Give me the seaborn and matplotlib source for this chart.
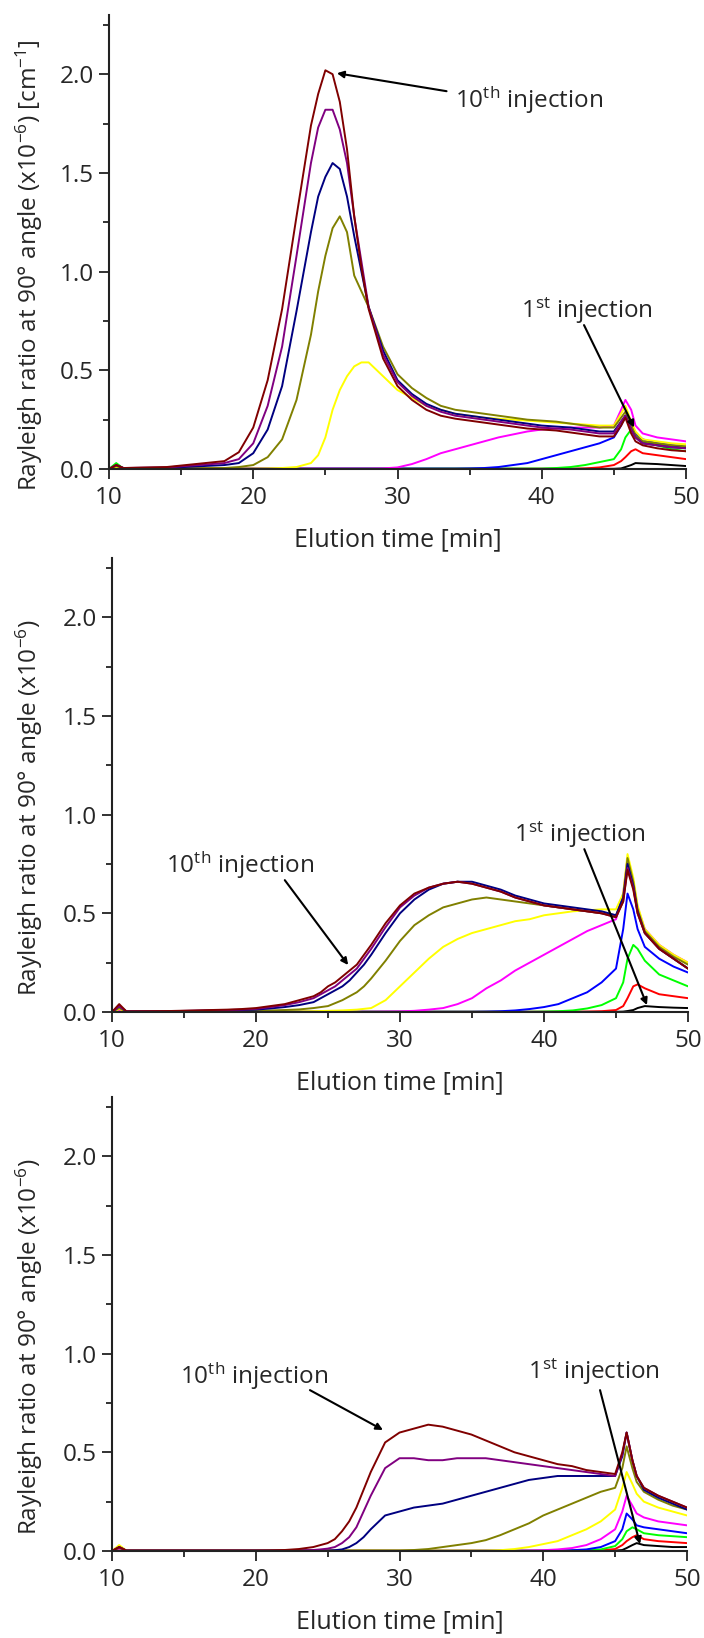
import numpy as np
import pandas as pd
import matplotlib
matplotlib.use("Agg")
import matplotlib.pyplot as plt
from matplotlib.ticker import MultipleLocator, FormatStrFormatter
import seaborn as sns

# ---------------- data ----------------
TIME = [10, 10.5, 11, 14, 18, 19, 20, 21, 22, 23,
        24, 24.5, 25, 25.5, 26, 26.5, 27, 27.5, 28, 29,
        30, 31, 32, 33, 34, 35, 36, 37, 38, 39, 40, 41, 42, 43, 44,
        45, 45.5, 45.8, 46.2, 46.5, 47, 48, 49, 50]

INJECTIONS = ["1st", "2nd", "3rd", "4th", "5th", "6th", "7th", "8th", "9th", "10th"]
COLORS = ["#000000", "#FF0000", "#00FF00", "#0000FF", "#FF00FF",
          "#FFFF00", "#808000", "#000080", "#800080", "#800000"]

# Panel 1 (values x1e-6 cm^-1)
P1_INJ1 = ([0.0, 0.01] + [0.001] * 8 + [0.001] * 10 + [0.001] * 15 +
           [0.001, 0.003, 0.01, 0.02, 0.03, 0.028, 0.025, 0.02, 0.015])
P1_INJ2 = ([0.0, 0.01] + [0.001] * 8 + [0.001] * 10 + [0.001] * 13 + [0.003, 0.008] +
           [0.02, 0.04, 0.06, 0.09, 0.10, 0.08, 0.07, 0.06, 0.05])
P1_INJ3 = ([0.0, 0.03] + [0.002] * 8 + [0.002] * 10 + [0.002] * 11 + [0.005, 0.01, 0.02, 0.035] +
           [0.05, 0.10, 0.16, 0.20, 0.17, 0.14, 0.12, 0.10, 0.09])
P1_INJ4 = ([0.0, 0.01] + [0.002] * 8 + [0.002] * 10 +
           [0.002, 0.002, 0.002, 0.002, 0.002, 0.003, 0.005, 0.01, 0.02, 0.03, 0.05, 0.07, 0.09, 0.11, 0.13] +
           [0.16, 0.22, 0.27, 0.22, 0.18, 0.15, 0.13, 0.12, 0.11])
P1_INJ5 = ([0.0, 0.01] + [0.002] * 8 + [0.002] * 9 + [0.003] +
           [0.008, 0.025, 0.05, 0.08, 0.10, 0.12, 0.14, 0.16, 0.175, 0.19, 0.20, 0.205, 0.21, 0.21, 0.21] +
           [0.22, 0.30, 0.35, 0.30, 0.22, 0.18, 0.16, 0.15, 0.14])
P1_INJ6 = ([0.0, 0.01, 0.002, 0.002, 0.002, 0.002, 0.002, 0.003, 0.005, 0.01] +
           [0.03, 0.07, 0.16, 0.30, 0.40, 0.47, 0.52, 0.54, 0.54, 0.47] +
           [0.40, 0.36, 0.32, 0.30, 0.28, 0.27, 0.26, 0.255, 0.25, 0.245, 0.24, 0.235, 0.23, 0.225, 0.22] +
           [0.22, 0.28, 0.32, 0.24, 0.19, 0.15, 0.14, 0.13, 0.125])
P1_INJ7 = ([0.0, 0.015, 0.003, 0.003, 0.005, 0.01, 0.02, 0.06, 0.15, 0.35] +
           [0.68, 0.90, 1.08, 1.22, 1.28, 1.20, 0.98, 0.90, 0.82, 0.62] +
           [0.48, 0.41, 0.36, 0.32, 0.30, 0.29, 0.28, 0.27, 0.26, 0.25, 0.245, 0.24, 0.23, 0.22, 0.21] +
           [0.21, 0.26, 0.29, 0.22, 0.17, 0.14, 0.13, 0.12, 0.115])
P1_INJ8 = ([0.0, 0.02, 0.005, 0.006, 0.02, 0.03, 0.08, 0.20, 0.42, 0.80] +
           [1.20, 1.38, 1.48, 1.55, 1.52, 1.38, 1.18, 1.00, 0.82, 0.60] +
           [0.45, 0.38, 0.33, 0.30, 0.28, 0.27, 0.26, 0.25, 0.24, 0.23, 0.22, 0.215, 0.21, 0.20, 0.19] +
           [0.19, 0.24, 0.27, 0.20, 0.16, 0.13, 0.12, 0.11, 0.105])
P1_INJ9 = ([0.0, 0.02, 0.005, 0.008, 0.03, 0.05, 0.13, 0.32, 0.62, 1.08] +
           [1.55, 1.73, 1.82, 1.82, 1.72, 1.55, 1.28, 1.05, 0.82, 0.58] +
           [0.44, 0.37, 0.32, 0.29, 0.27, 0.26, 0.25, 0.24, 0.23, 0.22, 0.21, 0.205, 0.20, 0.19, 0.18] +
           [0.18, 0.24, 0.27, 0.20, 0.16, 0.13, 0.12, 0.11, 0.105])
P1_INJ10 = ([0.0, 0.02, 0.005, 0.01, 0.04, 0.085, 0.21, 0.45, 0.81, 1.28] +
            [1.74, 1.90, 2.02, 2.00, 1.86, 1.62, 1.28, 1.02, 0.81, 0.56] +
            [0.42, 0.35, 0.30, 0.27, 0.255, 0.245, 0.235, 0.225, 0.215, 0.205, 0.20, 0.195, 0.185, 0.175, 0.165] +
            [0.165, 0.22, 0.26, 0.18, 0.14, 0.12, 0.105, 0.095, 0.09])

# Panel 2
P2_INJ1 = ([0.0, 0.01] + [0.001] * 8 + [0.001] * 10 + [0.001] * 15 +
           [0.001, 0.002, 0.005, 0.01, 0.02, 0.03, 0.025, 0.022, 0.02])
P2_INJ2 = ([0.0, 0.01] + [0.001] * 8 + [0.001] * 10 + [0.001] * 13 + [0.002, 0.004] +
           [0.01, 0.03, 0.07, 0.13, 0.14, 0.12, 0.09, 0.08, 0.07])
P2_INJ3 = ([0.0, 0.01] + [0.001] * 8 + [0.001] * 10 + [0.001] * 10 + [0.002, 0.004, 0.008, 0.018, 0.035] +
           [0.07, 0.15, 0.27, 0.34, 0.32, 0.26, 0.19, 0.16, 0.13])
P2_INJ4 = ([0.0, 0.01] + [0.001] * 8 + [0.001] * 10 + [0.001] * 6 +
           [0.002, 0.004, 0.008, 0.015, 0.025, 0.04, 0.07, 0.10, 0.15] +
           [0.22, 0.42, 0.60, 0.52, 0.42, 0.33, 0.27, 0.23, 0.20])
P2_INJ5 = ([0.0, 0.01] + [0.001] * 8 + [0.001] * 9 + [0.002] +
           [0.003, 0.006, 0.012, 0.02, 0.04, 0.07, 0.12, 0.16, 0.21, 0.25, 0.29, 0.33, 0.37, 0.41, 0.44] +
           [0.47, 0.60, 0.78, 0.66, 0.53, 0.42, 0.34, 0.29, 0.25])
P2_INJ6 = ([0.0, 0.015, 0.002, 0.002, 0.002, 0.002, 0.002, 0.002, 0.003, 0.003] +
           [0.004, 0.005, 0.006, 0.007, 0.008, 0.01, 0.012, 0.016, 0.02, 0.06] +
           [0.13, 0.20, 0.27, 0.33, 0.37, 0.40, 0.42, 0.44, 0.46, 0.47, 0.49, 0.50, 0.51, 0.515, 0.52] +
           [0.52, 0.60, 0.80, 0.68, 0.54, 0.42, 0.34, 0.29, 0.25])
P2_INJ7 = ([0.0, 0.02, 0.002, 0.002, 0.004, 0.005, 0.006, 0.008, 0.01, 0.013] +
           [0.02, 0.025, 0.03, 0.045, 0.06, 0.08, 0.10, 0.13, 0.17, 0.26] +
           [0.36, 0.44, 0.49, 0.53, 0.55, 0.57, 0.58, 0.57, 0.56, 0.55, 0.54, 0.53, 0.52, 0.51, 0.50] +
           [0.49, 0.58, 0.78, 0.66, 0.52, 0.41, 0.33, 0.28, 0.24])
P2_INJ8 = ([0.0, 0.03, 0.003, 0.003, 0.008, 0.01, 0.012, 0.018, 0.025, 0.035] +
           [0.05, 0.07, 0.09, 0.11, 0.13, 0.16, 0.20, 0.24, 0.29, 0.40] +
           [0.50, 0.57, 0.62, 0.65, 0.66, 0.66, 0.64, 0.62, 0.59, 0.57, 0.55, 0.54, 0.53, 0.52, 0.51] +
           [0.49, 0.58, 0.75, 0.64, 0.51, 0.40, 0.32, 0.27, 0.22])
P2_INJ9 = ([0.0, 0.03, 0.003, 0.004, 0.01, 0.012, 0.016, 0.025, 0.035, 0.05] +
           [0.07, 0.09, 0.11, 0.13, 0.16, 0.19, 0.22, 0.27, 0.32, 0.43] +
           [0.53, 0.59, 0.63, 0.65, 0.66, 0.65, 0.63, 0.61, 0.58, 0.56, 0.54, 0.53, 0.52, 0.51, 0.50] +
           [0.48, 0.56, 0.73, 0.63, 0.50, 0.40, 0.32, 0.27, 0.22])
P2_INJ10 = ([0.0, 0.04, 0.003, 0.005, 0.012, 0.015, 0.02, 0.03, 0.04, 0.06] +
            [0.08, 0.10, 0.13, 0.15, 0.18, 0.21, 0.24, 0.29, 0.34, 0.45] +
            [0.54, 0.60, 0.63, 0.65, 0.66, 0.65, 0.63, 0.61, 0.58, 0.56, 0.54, 0.53, 0.52, 0.51, 0.50] +
            [0.48, 0.56, 0.72, 0.62, 0.50, 0.40, 0.32, 0.27, 0.22])

# Panel 3
P3_INJ1 = ([0.0, 0.01] + [0.001] * 8 + [0.001] * 10 + [0.001] * 15 +
           [0.002, 0.005, 0.015, 0.03, 0.04, 0.03, 0.025, 0.02, 0.02])
P3_INJ2 = ([0.0, 0.01] + [0.001] * 8 + [0.001] * 10 + [0.001] * 13 + [0.002, 0.003] +
           [0.01, 0.03, 0.05, 0.07, 0.08, 0.06, 0.05, 0.045, 0.04])
P3_INJ3 = ([0.0, 0.01] + [0.001] * 8 + [0.001] * 10 + [0.001] * 12 + [0.002, 0.004, 0.008] +
           [0.025, 0.06, 0.10, 0.12, 0.11, 0.09, 0.08, 0.075, 0.07])
P3_INJ4 = ([0.0, 0.01] + [0.001] * 8 + [0.001] * 10 + [0.001] * 11 + [0.002, 0.004, 0.008, 0.02] +
           [0.05, 0.11, 0.19, 0.16, 0.13, 0.12, 0.11, 0.10, 0.09])
P3_INJ5 = ([0.0, 0.01] + [0.001] * 8 + [0.001] * 10 + [0.001] * 9 +
           [0.002, 0.004, 0.008, 0.015, 0.03, 0.06] +
           [0.11, 0.20, 0.28, 0.23, 0.19, 0.17, 0.15, 0.14, 0.13])
P3_INJ6 = ([0.0, 0.03] + [0.002] * 8 + [0.002] * 10 + [0.002] * 6 +
           [0.002, 0.004, 0.01, 0.02, 0.035, 0.05, 0.08, 0.11, 0.15] +
           [0.21, 0.32, 0.40, 0.34, 0.29, 0.25, 0.22, 0.20, 0.18])
P3_INJ7 = ([0.0, 0.015] + [0.002] * 8 + [0.002] * 10 +
           [0.002, 0.005, 0.01, 0.02, 0.03, 0.04, 0.055, 0.08, 0.11, 0.14, 0.18, 0.21, 0.24, 0.27, 0.30] +
           [0.32, 0.42, 0.53, 0.42, 0.35, 0.30, 0.26, 0.23, 0.21])
P3_INJ8 = ([0.0, 0.02] + [0.002] * 8 +
           [0.002, 0.002, 0.002, 0.004, 0.008, 0.02, 0.04, 0.07, 0.11, 0.18] +
           [0.20, 0.22, 0.23, 0.24, 0.26, 0.28, 0.30, 0.32, 0.34, 0.36, 0.37, 0.38, 0.38, 0.38, 0.38] +
           [0.38, 0.48, 0.60, 0.46, 0.38, 0.31, 0.27, 0.24, 0.21])
P3_INJ9 = ([0.0, 0.02, 0.002, 0.002, 0.002, 0.002, 0.002, 0.002, 0.002, 0.003] +
           [0.005, 0.008, 0.012, 0.02, 0.04, 0.07, 0.12, 0.20, 0.28, 0.42] +
           [0.47, 0.47, 0.46, 0.46, 0.47, 0.47, 0.47, 0.46, 0.45, 0.44, 0.43, 0.42, 0.41, 0.40, 0.39] +
           [0.38, 0.49, 0.60, 0.46, 0.38, 0.32, 0.28, 0.25, 0.22])
P3_INJ10 = ([0.0, 0.02, 0.002, 0.002, 0.002, 0.002, 0.002, 0.003, 0.005, 0.01] +
            [0.02, 0.03, 0.04, 0.06, 0.10, 0.15, 0.22, 0.31, 0.40, 0.55] +
            [0.60, 0.62, 0.64, 0.63, 0.61, 0.59, 0.56, 0.53, 0.50, 0.48, 0.46, 0.44, 0.43, 0.41, 0.40] +
            [0.39, 0.50, 0.60, 0.46, 0.38, 0.32, 0.28, 0.25, 0.22])

PANELS = [
    [P1_INJ1, P1_INJ2, P1_INJ3, P1_INJ4, P1_INJ5, P1_INJ6, P1_INJ7, P1_INJ8, P1_INJ9, P1_INJ10],
    [P2_INJ1, P2_INJ2, P2_INJ3, P2_INJ4, P2_INJ5, P2_INJ6, P2_INJ7, P2_INJ8, P2_INJ9, P2_INJ10],
    [P3_INJ1, P3_INJ2, P3_INJ3, P3_INJ4, P3_INJ5, P3_INJ6, P3_INJ7, P3_INJ8, P3_INJ9, P3_INJ10],
]

YLABELS = [r"Rayleigh ratio at 90° angle (x10$^{-6}$) [cm$^{-1}$]",
           r"Rayleigh ratio at 90° angle (x10$^{-6}$)",
           r"Rayleigh ratio at 90° angle (x10$^{-6}$)"]
XLABEL = "Elution time [min]"
XTICKS = [10, 20, 30, 40, 50]
YTICKS = [0.0, 0.5, 1.0, 1.5, 2.0]

LABEL_10 = r"10$^{\mathrm{th}}$ injection"
LABEL_1 = r"1$^{\mathrm{st}}$ injection"
# (text position, arrow tail, arrow tip) per panel, data coordinates
ANN_10 = [((34.0, 1.83), (33.4, 1.914), (25.8, 2.005)),
          ((13.75, 0.704), (22.0, 0.668), (26.4, 0.238)),
          ((14.73, 0.846), (23.77, 0.815), (28.85, 0.613))]
ANN_1 = [((38.56, 0.765), (42.93, 0.729), (46.4, 0.21)),
         ((37.9, 0.861), (42.8, 0.825), (47.15, 0.035)),
         ((38.94, 0.871), (43.95, 0.815), (46.73, 0.035))]

# ---------------- style ----------------
sns.set_theme(style="ticks")
FONT = "Open Sans"
plt.rcParams["font.family"] = [FONT, "DejaVu Sans"]
plt.rcParams["mathtext.fontset"] = "custom"
plt.rcParams["mathtext.rm"] = FONT
plt.rcParams["mathtext.it"] = FONT + ":italic"
plt.rcParams["mathtext.bf"] = FONT + ":bold"

W, H = 704, 1638
fig = plt.figure(figsize=(W / 100, H / 100), dpi=100)

# axes rectangles in pixels: left, right, bottom(y0 px), height
RECTS_PX = [(109, 686, 469), (112, 688, 1012), (112, 687, 1551)]
AX_H = 454

for i, (series, (lpx, rpx, bpx)) in enumerate(zip(PANELS, RECTS_PX)):
    ax = fig.add_axes([lpx / W, 1 - bpx / H, (rpx - lpx) / W, AX_H / H])
    rows = []
    for name, vals in zip(INJECTIONS, series):
        assert len(vals) == len(TIME), (i, name, len(vals))
        for t, v in zip(TIME, vals):
            rows.append((t, v, name))
    df = pd.DataFrame(rows, columns=["time", "value", "injection"])
    sns.lineplot(data=df, x="time", y="value", hue="injection",
                 hue_order=INJECTIONS, palette=COLORS, estimator=None,
                 sort=False, legend=False, linewidth=1.4, ax=ax)

    ax.set_xlim(10, 50)
    ax.set_ylim(0, 2.3)
    ax.set_xticks(XTICKS)
    ax.set_yticks(YTICKS)
    ax.xaxis.set_minor_locator(MultipleLocator(5))
    ax.yaxis.set_minor_locator(MultipleLocator(0.25))
    ax.yaxis.set_major_formatter(FormatStrFormatter("%.1f"))
    ax.tick_params(which="major", length=7, width=1.3, labelsize=17.5,
                   direction="out", color="#222222")
    ax.tick_params(axis="y", which="major", pad=4)
    ax.tick_params(axis="x", which="major", pad=5)
    ax.tick_params(which="minor", length=4, width=1.3, direction="out",
                   color="#222222")
    sns.despine(ax=ax)
    for sp in ("left", "bottom"):
        ax.spines[sp].set_linewidth(1.5)
        ax.spines[sp].set_color("#222222")

    ax.set_xlabel(XLABEL, fontsize=18, labelpad=13)
    ax.set_ylabel(YLABELS[i], fontsize=17.5)
    ax.yaxis.set_label_coords((45 - lpx) / (rpx - lpx), 0.45)

    for (txy, tail, tip), lab in ((ANN_10[i], LABEL_10), (ANN_1[i], LABEL_1)):
        ax.text(txy[0], txy[1], lab, fontsize=17.5, ha="left", va="baseline")
        ax.annotate("", xy=tip, xytext=tail,
                    arrowprops=dict(arrowstyle="-|>", color="black", lw=1.5,
                                    mutation_scale=10, shrinkA=0, shrinkB=0))

fig.savefig("out.png", dpi=100)
